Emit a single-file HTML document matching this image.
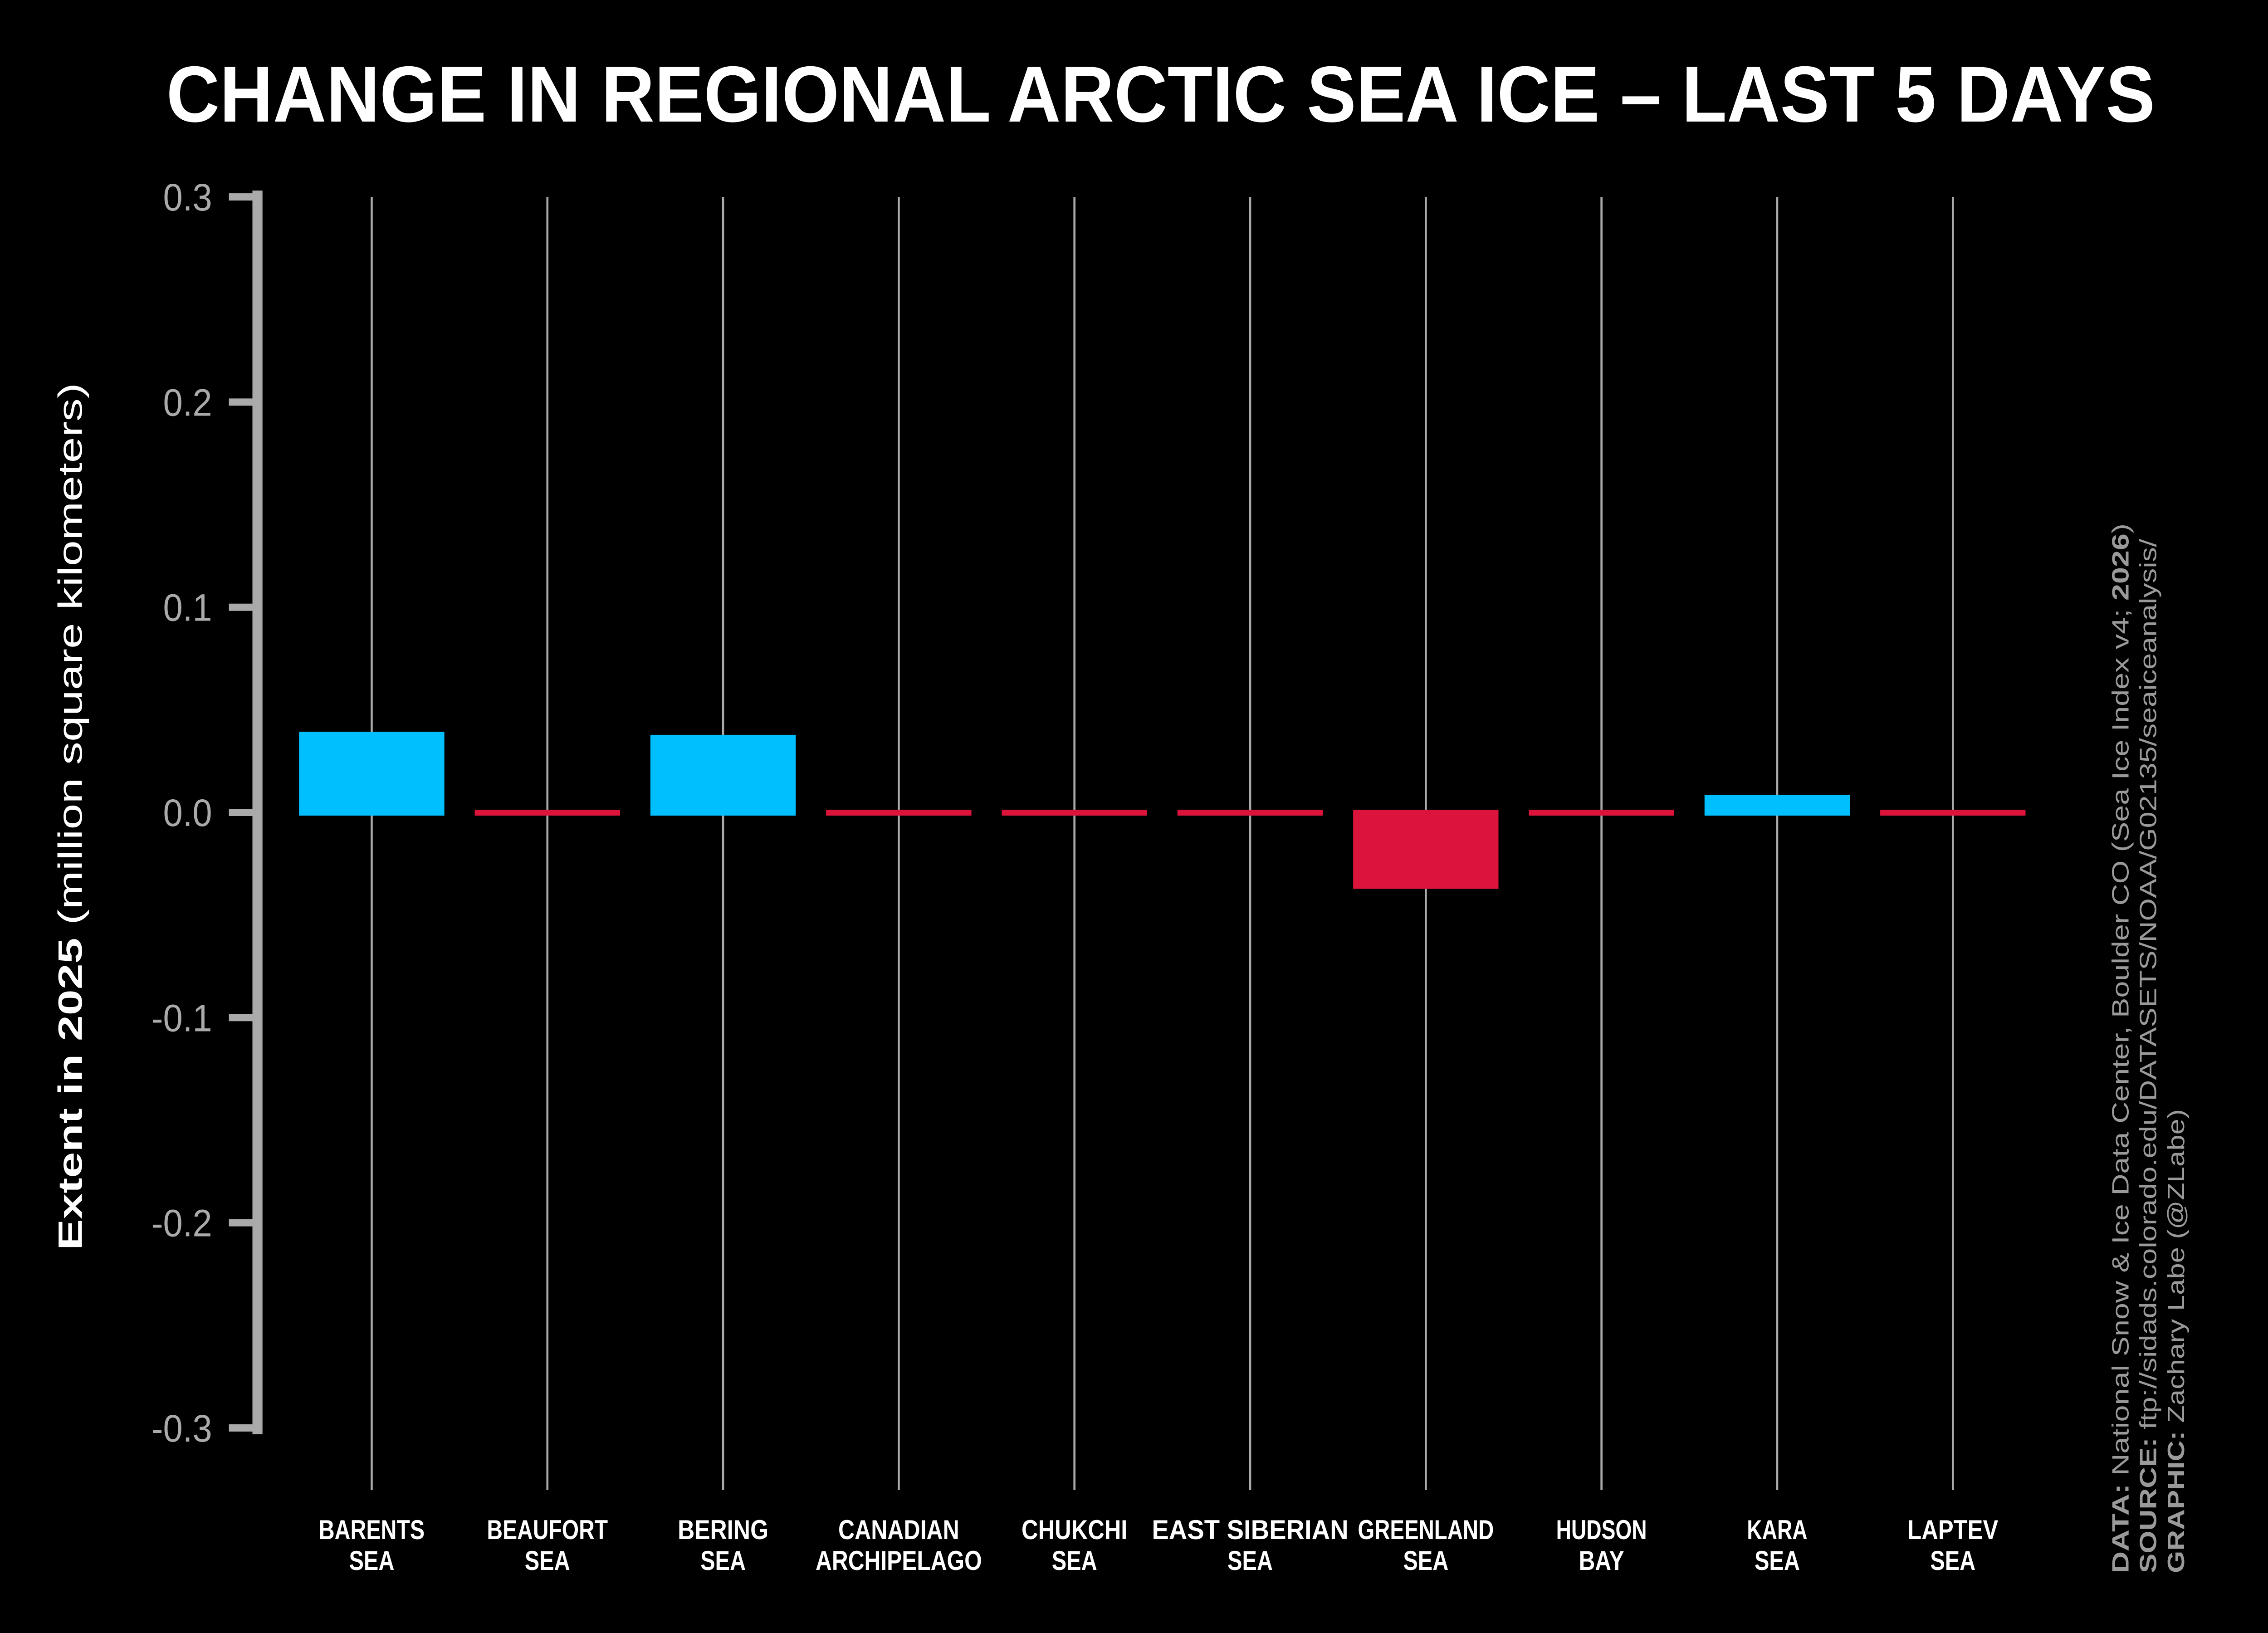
<!DOCTYPE html>
<html><head><meta charset="utf-8">
<style>html,body{margin:0;padding:0;background:#000;width:100%;height:100%;overflow:hidden}#wrap{position:absolute;left:0;top:0;width:100vw;height:100vh;overflow:hidden}svg{display:block;width:100%;height:100%}</style>
</head><body>
<div id="wrap">
<svg id="chart" xmlns="http://www.w3.org/2000/svg" width="100%" height="100%" viewBox="0 0 5400 3600" preserveAspectRatio="none" overflow="hidden">
<rect x="0" y="0" width="5400" height="3600" fill="#000"/>
<text x="396" y="268" fill="#fff" font-family="Liberation Sans, sans-serif" font-weight="bold" font-size="175" textLength="4735" lengthAdjust="spacingAndGlyphs">CHANGE IN REGIONAL ARCTIC SEA ICE – LAST 5 DAYS</text>
<text transform="translate(195,1800) rotate(-90)" text-anchor="middle" fill="#fff" font-family="Liberation Sans, sans-serif" font-size="80" textLength="1912" lengthAdjust="spacingAndGlyphs"><tspan font-weight="bold">Extent in 2025</tspan> (million square kilometers)</text>
<g transform="translate(5068,3468) rotate(-90)" fill="#9a9a9a" font-family="Liberation Sans, sans-serif" font-size="56">
<text x="0" y="0" textLength="2314" lengthAdjust="spacingAndGlyphs"><tspan font-weight="bold">DATA:</tspan> National Snow &amp; Ice Data Center, Boulder CO (Sea Ice Index v4; <tspan font-weight="bold">2026</tspan>)</text>
<text x="0" y="66" textLength="2280" lengthAdjust="spacingAndGlyphs"><tspan font-weight="bold">SOURCE:</tspan> ftp://sidads.colorado.edu/DATASETS/NOAA/G02135/seaiceanalysis/</text>
<text x="0" y="132" textLength="1023" lengthAdjust="spacingAndGlyphs"><tspan font-weight="bold">GRAPHIC:</tspan> Zachary Labe (@ZLabe)</text>
</g>
<g id="plot"></g>
</svg>
</div>
<script>
const categories = ["BARENTS|SEA","BEAUFORT|SEA","BERING|SEA","CANADIAN|ARCHIPELAGO","CHUKCHI|SEA","EAST SIBERIAN|SEA","GREENLAND|SEA","HUDSON|BAY","KARA|SEA","LAPTEV|SEA"];
const values = [0.038, 0.0, 0.0365, 0.0, 0.0, 0.0, -0.0357, 0.0, 0.0073, 0.0];
const yTicks = [0.3, 0.2, 0.1, 0.0, -0.1, -0.2, -0.3];
const yTickLabels = ["0.3","0.2","0.1","0.0","-0.1","-0.2","-0.3"];

const NS = "http://www.w3.org/2000/svg";
const plot = document.getElementById("plot");
const Y0 = 1791, PXPER = 4523;
function yScale(v){ return Y0 - v*PXPER; }
function xScale(i){ return 885 + i*418.3; }
function mk(tag, attrs){ const e=document.createElementNS(NS,tag); for(const k in attrs) e.setAttribute(k,attrs[k]); plot.appendChild(e); return e; }

categories.forEach((c,i)=>{
  const g = mk("line",{x1:xScale(i),x2:xScale(i),y1:yScale(0.3),y2:3285,stroke:"#aaaaaa","stroke-width":5});
  
  
});
const sp = mk("rect",{x:601,y:yScale(0.3)-14,width:24,height:yScale(-0.3)-yScale(0.3)+28,fill:"#aaaaaa"});


yTicks.forEach((t,i)=>{
  const tk = mk("rect",{x:545,y:yScale(t)-8,width:70,height:16,fill:"#aaaaaa"});
  
  
  const tl = mk("text",{x:505,y:yScale(t)+30,"text-anchor":"end",fill:"#aaaaaa","font-family":"Liberation Sans, sans-serif","font-size":84});
  tl.textContent = yTickLabels[i];
  
  
});
values.forEach((v,i)=>{
  const col = v>0 ? "#00bfff" : "#dc143c";
  const top = Math.min(yScale(v),Y0), bot = Math.max(yScale(v),Y0);
  const b = mk("rect",{x:xScale(i)-173,y:top-6,width:346,height:bot-top+13,fill:col});
  
  
});
categories.forEach((c,i)=>{
  const parts=c.split('|');
  parts.forEach((p,j)=>{
    const w = p.length*36;
    const t = mk("text",{x:xScale(i)-w/2,y:3393+j*68,fill:"#fff","font-family":"Liberation Sans, sans-serif","font-weight":"bold","font-size":60,textLength:w,lengthAdjust:"spacingAndGlyphs"});
    t.textContent = p;
    
    
  });
});
</script>
</body></html>
